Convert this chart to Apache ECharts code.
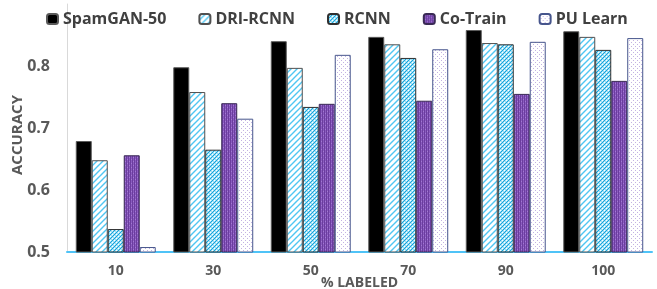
<!DOCTYPE html>
<html lang="en">
<head>
    <meta charset="UTF-8">
    <title>Accuracy vs % labeled</title>
    <script src="https://cdn.jsdelivr.net/npm/echarts@6/dist/echarts.min.js"></script>
    <style>
        html, body { margin: 0; padding: 0; background: #fff; }
        #main { width: 657px; height: 289px; }
    </style>
</head>
<body>
<div id="main"></div>
<script>
    // data
    var categories = ['10', '30', '50', '70', '90', '100'];
    var seriesNames = ['SpamGAN-50', 'DRI-RCNN', 'RCNN', 'Co-Train', 'PU Learn'];
    var spamgan = [0.679, 0.798, 0.840, 0.847, 0.858, 0.856];
    var drircnn = [0.648, 0.758, 0.797, 0.835, 0.837, 0.847];
    var rcnn = [0.537, 0.665, 0.734, 0.813, 0.835, 0.826];
    var cotrain = [0.656, 0.740, 0.739, 0.744, 0.755, 0.776];
    var pulearn = [0.508, 0.715, 0.818, 0.827, 0.839, 0.845];
    var yTicks = [0.5, 0.6, 0.7, 0.8, 0.9];

    // little canvas tiles for the fill patterns
    function tile(size, draw) {
        var c = document.createElement('canvas');
        c.width = size;
        c.height = size;
        draw(c.getContext('2d'), size);
        return {image: c, repeat: 'repeat'};
    }

    var hatch = tile(6, function (g, s) {
        g.fillStyle = '#fff';
        g.fillRect(0, 0, s, s);
        g.strokeStyle = '#4fc6f2';
        g.lineWidth = 1.4;
        g.beginPath();
        g.moveTo(-1, s + 1); g.lineTo(s + 1, -1);
        g.moveTo(-1, 1); g.lineTo(1, -1);
        g.moveTo(s - 1, s + 1); g.lineTo(s + 1, s - 1);
        g.stroke();
    });

    var dots = tile(4, function (g, s) {
        g.fillStyle = '#9fe0f6';
        g.fillRect(0, 0, s, s);
        g.fillStyle = '#16a2da';
        g.fillRect(0, 0, 1, 1);
        g.fillRect(2, 2, 1, 1);
        g.fillRect(1, 3, 1, 1);
        g.fillRect(3, 1, 1, 1);
        g.fillStyle = '#ffffff';
        g.fillRect(2, 0, 1, 1);
        g.fillRect(0, 2, 1, 1);
    });

    var purple = tile(4, function (g, s) {
        g.fillStyle = '#8a5bc0';
        g.fillRect(0, 0, s, s);
        g.fillStyle = '#6b3d9e';
        g.fillRect(0, 0, 1, s);
        g.fillRect(2, 0, 1, s);
        g.fillStyle = '#a37ad3';
        g.fillRect(1, 1, 1, 1);
        g.fillRect(3, 3, 1, 1);
    });

    var pale = tile(4, function (g, s) {
        g.fillStyle = '#fff';
        g.fillRect(0, 0, s, s);
        g.fillStyle = '#c3b2e2';
        g.fillRect(1, 0, 1, 1);
        g.fillRect(3, 2, 1, 1);
    });

    var fills = ['#000000', hatch, dots, purple, pale];
    var borders = ['#5a5a5a', '#505050', '#2f2f2f', '#3a2a55', '#46558c'];
    var values = [spamgan, drircnn, rcnn, cotrain, pulearn];

    var series = [];
    for (var i = 0; i < seriesNames.length; i++) {
        series.push({
            name: seriesNames[i],
            type: 'bar',
            data: values[i],
            barGap: '0%',
            barCategoryGap: '18%',
            itemStyle: {
                color: fills[i],
                borderColor: borders[i],
                borderWidth: 1
            }
        });
    }

    var myChart = echarts.init(document.getElementById('main'));
    var option = {
        animation: false,
        textStyle: {fontFamily: 'Open Sans'},
        legend: {
            data: seriesNames,
            left: 41,
            top: 6,
            itemWidth: 11,
            itemHeight: 10,
            itemGap: 32,
            textStyle: {fontSize: 16, fontWeight: 'bold', color: '#404040', fontFamily: 'Open Sans'}
        },
        grid: {left: 67, right: 5, top: 4, bottom: 37, outerBoundsMode: 'none'},
        xAxis: {
            type: 'category',
            data: categories,
            name: '% LABELED',
            nameLocation: 'middle',
            nameGap: 24,
            nameMoveOverlap: false,
            nameTextStyle: {fontSize: 14, fontWeight: 'bold', color: '#595959'},
            axisLine: {lineStyle: {color: '#4fc3f7', width: 2}},
            axisTick: {show: false},
            axisLabel: {fontSize: 14, fontWeight: 'bold', color: '#595959', margin: 12}
        },
        yAxis: {
            type: 'value',
            min: yTicks[0],
            max: yTicks[yTicks.length - 1],
            interval: 0.1,
            name: 'ACCURACY',
            nameLocation: 'middle',
            nameGap: 42,
            nameMoveOverlap: false,
            nameTextStyle: {fontSize: 15, fontWeight: 'bold', color: '#595959', padding: [0, 14, 0, 0]},
            splitLine: {show: false},
            axisLine: {show: true, lineStyle: {color: '#d9d9d9', width: 1}},
            axisTick: {show: false},
            axisLabel: {
                fontSize: 16, fontWeight: 'bold', color: '#595959', margin: 17,
                showMaxLabel: false,
                formatter: function (v) { return v > 0.85 ? '' : v.toFixed(1); }
            }
        },
        series: series
    };
    myChart.setOption(option);
</script>
</body>
</html>
